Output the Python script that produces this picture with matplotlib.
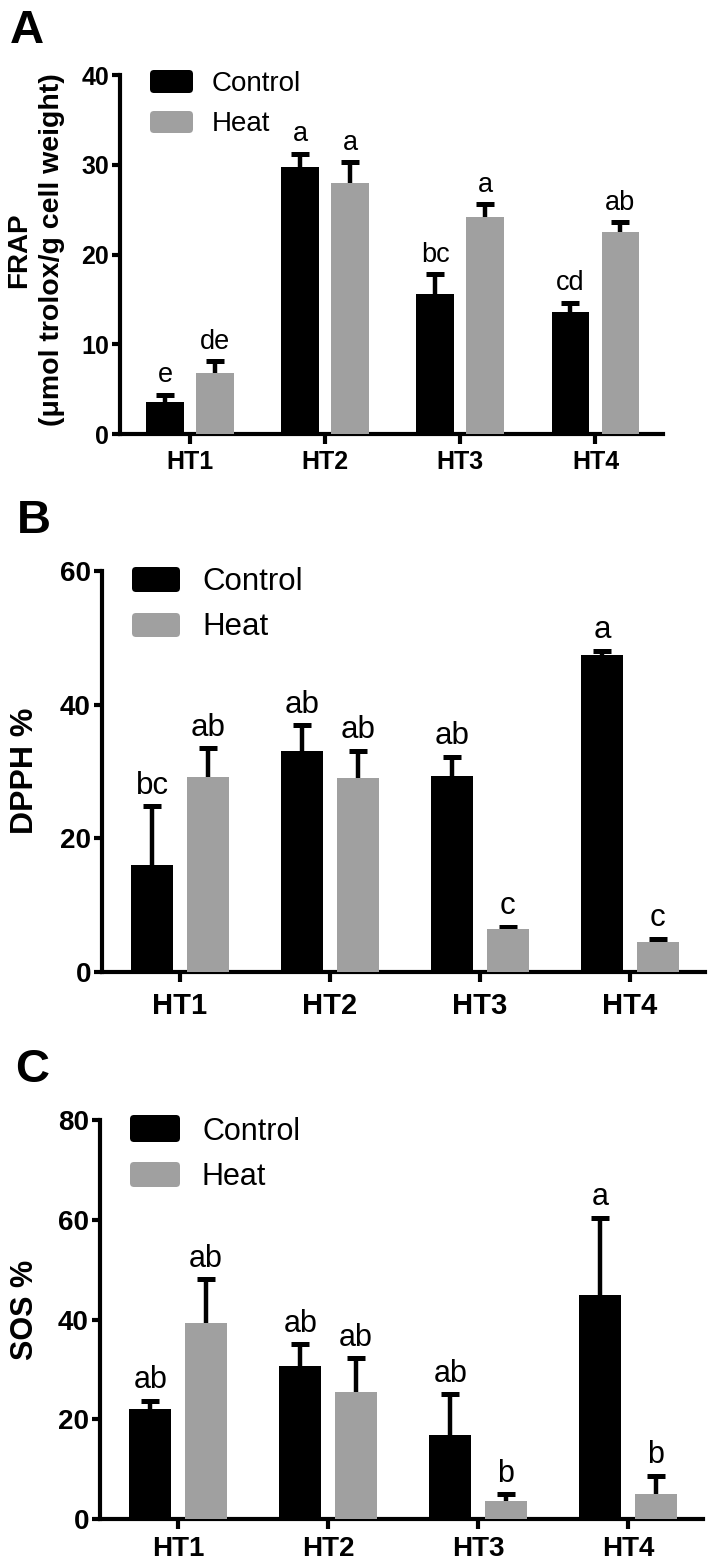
import matplotlib
matplotlib.use('Agg')
import matplotlib.pyplot as plt
from matplotlib.patches import FancyBboxPatch
from matplotlib.transforms import IdentityTransform
import numpy as np

plt.rcParams['font.family'] = ['Liberation Sans', 'DejaVu Sans']

# ---------------- data ----------------
groups = ['HT1', 'HT2', 'HT3', 'HT4']
series = ['Control', 'Heat']

frap_control = [3.6, 29.7, 15.6, 13.6]
frap_control_err = [0.75, 1.5, 2.2, 1.0]
frap_heat = [6.8, 28.0, 24.2, 22.5]
frap_heat_err = [1.3, 2.3, 1.4, 1.1]
frap_letters_control = ['e', 'a', 'bc', 'cd']
frap_letters_heat = ['de', 'a', 'a', 'ab']
frap_yticks = [0, 10, 20, 30, 40]

dpph_control = [16.0, 33.1, 29.3, 47.5]
dpph_control_err = [8.8, 3.8, 2.9, 0.6]
dpph_heat = [29.2, 29.1, 6.5, 4.5]
dpph_heat_err = [4.3, 4.0, 0.3, 0.5]
dpph_letters_control = ['bc', 'ab', 'ab', 'a']
dpph_letters_heat = ['ab', 'ab', 'c', 'c']
dpph_yticks = [0, 20, 40, 60]

sos_control = [22.0, 30.7, 16.9, 45.0]
sos_control_err = [1.7, 4.3, 8.1, 15.4]
sos_heat = [39.3, 25.4, 3.7, 5.0]
sos_heat_err = [8.8, 6.8, 1.3, 3.7]
sos_letters_control = ['ab', 'ab', 'ab', 'a']
sos_letters_heat = ['ab', 'ab', 'b', 'b']
sos_yticks = [0, 20, 40, 60, 80]

# ---------------- styling ----------------
W, H = 710, 1564
BLACK = '#000000'
GRAY = '#a0a0a0'
colors = [BLACK, GRAY]

fig = plt.figure(figsize=(W / 100, H / 100), dpi=100)


def axes_px(left, right, top, bottom):
    return fig.add_axes([left / W, 1 - bottom / H, (right - left) / W, (bottom - top) / H])


panels = [
    dict(letter='A', letter_xy=(10, 43),
         box=(120, 663, 75, 434),
         ctrl=frap_control, ctrl_err=frap_control_err,
         heat=frap_heat, heat_err=frap_heat_err,
         lc=frap_letters_control, lh=frap_letters_heat,
         yticks=frap_yticks, tick_fs=18, xtick_fs=18, xpad=4.5, letter_fs=19.5, legend_fs=20,
         leg=dict(x=150, w=43, rows=[(70, 23), (111, 22)], tx=212)),
    dict(letter='B', letter_xy=(17, 533),
         box=(102, 705, 571, 972),
         ctrl=dpph_control, ctrl_err=dpph_control_err,
         heat=dpph_heat, heat_err=dpph_heat_err,
         lc=dpph_letters_control, lh=dpph_letters_heat,
         yticks=dpph_yticks, tick_fs=20, xtick_fs=21, xpad=7.5, letter_fs=22.5, legend_fs=22.5,
         leg=dict(x=132, w=48, rows=[(567, 25), (613, 24)], tx=202)),
    dict(letter='C', letter_xy=(15, 1082),
         box=(100, 703, 1120, 1519),
         ctrl=sos_control, ctrl_err=sos_control_err,
         heat=sos_heat, heat_err=sos_heat_err,
         lc=sos_letters_control, lh=sos_letters_heat,
         yticks=sos_yticks, tick_fs=20, xtick_fs=20, xpad=5.5, letter_fs=22, legend_fs=22,
         leg=dict(x=130, w=50, rows=[(1115, 27), (1162, 25)], tx=202)),
]

x = np.arange(len(groups))
off = 0.185
bw = 0.28

for p in panels:
    l, r, t, b = p['box']
    ax = axes_px(l, r, t, b)
    ax.bar(x - off, p['ctrl'], bw, color=BLACK, zorder=3)
    ax.bar(x + off, p['heat'], bw, color=GRAY, zorder=3)
    for pos, vals, errs in [(x - off, p['ctrl'], p['ctrl_err']), (x + off, p['heat'], p['heat_err'])]:
        ax.errorbar(pos, vals, yerr=errs, fmt='none', ecolor=BLACK, elinewidth=3.2,
                    capsize=6.5, capthick=3.6, zorder=2)
    for pos, vals, errs, labs in [(x - off, p['ctrl'], p['ctrl_err'], p['lc']),
                                  (x + off, p['heat'], p['heat_err'], p['lh'])]:
        for xi, v, e, s in zip(pos, vals, errs, labs):
            ax.annotate(s, (xi, v + e), xytext=(0, 9), textcoords='offset points',
                        ha='center', va='baseline', fontsize=p['letter_fs'])
    ax.set_xlim(-0.52, 3.5)
    ax.set_ylim(0, p['yticks'][-1])
    ax.set_yticks(p['yticks'])
    ax.set_xticks(x)
    ax.set_xticklabels(groups, fontweight='bold', fontsize=p['xtick_fs'])
    ax.set_yticklabels([str(v) for v in p['yticks']], fontweight='bold', fontsize=p['tick_fs'])
    for s in ['top', 'right']:
        ax.spines[s].set_visible(False)
    for s in ['left', 'bottom']:
        ax.spines[s].set_linewidth(3)
    ax.tick_params(axis='y', width=3, length=6, pad=2)
    ax.tick_params(axis='x', width=3, length=7, pad=p['xpad'])
    ax.patch.set_alpha(0)

    # panel letter
    lx, ly = p['letter_xy']
    fig.text(lx / W, 1 - ly / H, p['letter'], fontsize=34, fontweight='bold', va='baseline', ha='left')

    # legend
    lg = p['leg']
    for (ytop, h), label, col in zip(lg['rows'], series, colors):
        patch = FancyBboxPatch((lg['x'], H - ytop - h), lg['w'], h,
                               boxstyle='round,pad=0,rounding_size=4',
                               transform=IdentityTransform(), facecolor=col, edgecolor='none')
        fig.add_artist(patch)
        fig.text(lg['tx'] / W, 1 - (ytop + h - 2) / H, label, fontsize=p['legend_fs'],
                 va='baseline', ha='left')

# y-axis labels
fig.text(19 / W, 1 - 250 / H, 'FRAP', rotation=90, fontsize=20, fontweight='bold',
         ha='center', va='center')
fig.text(52 / W, 1 - 250 / H, '(μmol trolox/g cell weight)', rotation=90, fontsize=20.5,
         fontweight='bold', ha='center', va='center')
fig.text(25 / W, 1 - 771 / H, 'DPPH %', rotation=90, fontsize=23, fontweight='bold',
         ha='center', va='center')
fig.text(25 / W, 1 - 1310 / H, 'SOS %', rotation=90, fontsize=22, fontweight='bold',
         ha='center', va='center')

fig.savefig('out.png', dpi=100, facecolor='white')
